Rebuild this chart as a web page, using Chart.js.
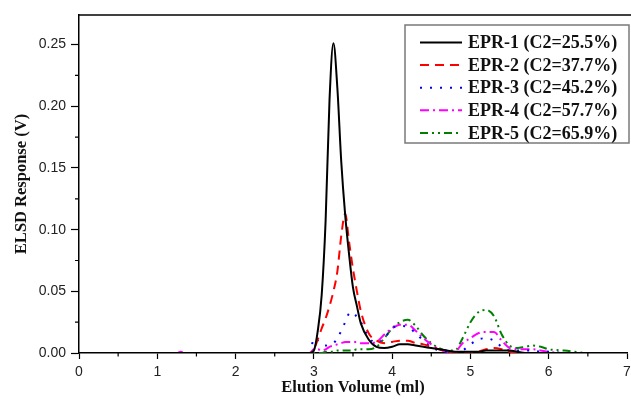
<!DOCTYPE html>
<html lang="en">
<head>
    <meta charset="UTF-8">
    <title>ELSD Response vs Elution Volume</title>
    <script src="https://cdn.jsdelivr.net/npm/chart.js"></script>
    <style>
        body { margin: 0; background: #fff; }
        .wrap { position: relative; width: 631px; height: 409px; }
    </style>
</head>
<body>
    <div class="wrap">
        <canvas id="elsdChart"></canvas>
    </div>

    <script>
        // elution volume (ml), shared by all five traces
        const volume = [0, 1, 1.25, 1.3, 1.35, 2, 2.95, 3.0, 3.05, 3.1, 3.15, 3.2, 3.25, 3.3, 3.35, 3.4, 3.45, 3.5, 3.55, 3.6, 3.7, 3.8, 3.9,
                        4.0, 4.1, 4.2, 4.3, 4.4, 4.5, 4.6, 4.7, 4.8, 4.9, 5.0, 5.1, 5.2, 5.3, 5.4, 5.5, 5.6, 5.7, 5.8, 5.9, 6.0, 6.2, 6.5, 7.0];

        const epr1 = [0, 0, 0, 0, 0, 0, 0, 0.002, 0.018, 0.047, 0.107, 0.205, 0.251, 0.215, 0.155, 0.112, 0.080, 0.053, 0.038, 0.024, 0.011, 0.005, 0.004,
                      0.005, 0.007, 0.007, 0.006, 0.005, 0.004, 0.003, 0.002, 0.001, 0.001, 0.001, 0.001, 0.002, 0.002, 0.002, 0.002, 0.001, 0, 0, 0, 0, 0, 0, 0];
        const epr2 = [0, 0, 0, 0, 0, 0, 0, 0.003, 0.011, 0.020, 0.028, 0.038, 0.050, 0.066, 0.095, 0.113, 0.090, 0.068, 0.050, 0.034, 0.016, 0.010, 0.008,
                      0.009, 0.010, 0.010, 0.008, 0.007, 0.005, 0.003, 0.001, 0, 0, 0, 0.001, 0.003, 0.004, 0.003, 0.001, 0, 0, 0, 0, 0, 0, 0, 0];
        const epr3 = [0, 0, 0, 0, 0, 0, 0, 0.012, 0.010, 0.007, 0.006, 0.007, 0.008, 0.012, 0.018, 0.025, 0.032, 0.033, 0.029, 0.025, 0.013, 0.008, 0.012,
                      0.020, 0.022, 0.021, 0.016, 0.010, 0.005, 0.002, 0.001, 0, 0.002, 0.007, 0.011, 0.012, 0.010, 0.005, 0.002, 0.002, 0.002, 0.002, 0.001, 0.001, 0, 0, 0];
        const epr4 = [0, 0, 0, 0.001, 0, 0, 0, 0.003, 0.003, 0.002, 0.003, 0.005, 0.006, 0.007, 0.008, 0.009, 0.009, 0.009, 0.009, 0.008, 0.008, 0.009, 0.015,
                      0.020, 0.023, 0.023, 0.018, 0.012, 0.007, 0.003, 0.001, 0.001, 0.008, 0.012, 0.016, 0.017, 0.017, 0.010, 0.004, 0.003, 0.003, 0.003, 0.002, 0.001, 0, 0, 0];
        const epr5 = [0, 0, 0, 0, 0, 0, 0, 0, 0, 0, 0.001, 0.001, 0.001, 0.002, 0.002, 0.002, 0.002, 0.002, 0.003, 0.003, 0.003, 0.005, 0.012,
                      0.020, 0.025, 0.027, 0.022, 0.014, 0.008, 0.004, 0.002, 0.002, 0.012, 0.025, 0.033, 0.035, 0.030, 0.015, 0.006, 0.004, 0.005, 0.006, 0.005, 0.003, 0.002, 0, 0];

        const seriesLabels = ['EPR-1 (C2=25.5%)', 'EPR-2 (C2=37.7%)', 'EPR-3 (C2=45.2%)', 'EPR-4 (C2=57.7%)', 'EPR-5 (C2=65.9%)'];
        const seriesValues = [epr1, epr2, epr3, epr4, epr5];
        const seriesColors = ['#000000', '#ff0000', '#0000ff', '#ff00ff', '#008000'];
        const seriesDash = [[], [9, 6], [2, 8], [9, 4, 2, 4], [8, 4, 2, 4, 2, 4]];

        const xTicks = [0, 1, 2, 3, 4, 5, 6, 7];
        const yTicks = [0, 0.05, 0.10, 0.15, 0.20, 0.25];

        const datasets = seriesLabels.map((label, i) => ({
            label: label,
            data: volume.map((v, j) => ({ x: v, y: seriesValues[i][j] })),
            borderColor: seriesColors[i],
            borderDash: seriesDash[i],
            borderWidth: 2,
            pointRadius: 0,
            fill: false,
            cubicInterpolationMode: 'monotone'
        }));

        // frame top line, minor ticks and the boxed legend
        const decorations = {
            id: 'decorations',
            afterDraw(chart) {
                const ctx = chart.ctx;
                const area = chart.chartArea;
                const xs = chart.scales.x;
                const ys = chart.scales.y;
                ctx.save();
                ctx.strokeStyle = '#000';
                ctx.lineWidth = 1.5;
                ctx.beginPath();
                ctx.moveTo(area.left, area.top);
                ctx.lineTo(chart.width, area.top);
                ctx.stroke();

                ctx.lineWidth = 1.2;
                ctx.beginPath();
                for (let i = 0; i < xTicks.length - 1; i++) {
                    const px = xs.getPixelForValue(xTicks[i] + 0.5);
                    ctx.moveTo(px, area.bottom);
                    ctx.lineTo(px, area.bottom + 3.5);
                }
                for (let i = 0; i < yTicks.length; i++) {
                    const v = yTicks[i] + 0.025;
                    if (v > ys.max) continue;
                    const py = ys.getPixelForValue(v);
                    ctx.moveTo(area.left, py);
                    ctx.lineTo(area.left - 4, py);
                }
                ctx.stroke();

                // legend
                const bx = 405, by = 25, bw = 224, bh = 118;
                ctx.fillStyle = '#fff';
                ctx.fillRect(bx, by, bw, bh);
                ctx.strokeStyle = '#7a7a7a';
                ctx.lineWidth = 1.5;
                ctx.strokeRect(bx, by, bw, bh);
                ctx.font = 'bold 18px "Liberation Serif", "Times New Roman", serif';
                ctx.textBaseline = 'middle';
                chart.data.datasets.forEach((ds, i) => {
                    const y = 42.5 + i * 22.6;
                    ctx.strokeStyle = ds.borderColor;
                    ctx.lineWidth = 2;
                    ctx.setLineDash(ds.borderDash);
                    ctx.beginPath();
                    ctx.moveTo(420, y);
                    ctx.lineTo(462, y);
                    ctx.stroke();
                    ctx.setLineDash([]);
                    ctx.fillStyle = '#111';
                    ctx.fillText(ds.label, 468, y + 1);
                });
                ctx.restore();
            }
        };

        const ctx = document.getElementById('elsdChart').getContext('2d');
        const elsdChart = new Chart(ctx, {
            type: 'line',
            data: { datasets: datasets },
            plugins: [decorations],
            options: {
                responsive: true,
                maintainAspectRatio: false,
                animation: false,
                layout: { padding: { top: 15, right: 4, left: 0, bottom: 0 } },
                plugins: {
                    legend: { display: false },
                    tooltip: { enabled: false }
                },
                scales: {
                    x: {
                        type: 'linear',
                        min: 0,
                        max: 7,
                        afterFit: (scale) => {
                            scale.height = 56;
                            scale.paddingLeft = 0;
                            scale.paddingRight = 0;
                        },
                        ticks: {
                            stepSize: 1,
                            padding: 5,
                            color: '#222',
                            font: { family: '"Liberation Sans", Arial, sans-serif', size: 14 }
                        },
                        grid: { drawOnChartArea: false, tickLength: 6, tickColor: '#000', tickWidth: 1.2 },
                        border: { color: '#000', width: 1.5 },
                        title: {
                            display: true,
                            text: 'Elution Volume (ml)',
                            color: '#111',
                            padding: { top: 0, bottom: 11 },
                            font: { family: '"Liberation Serif", "Times New Roman", serif', size: 16.5, weight: 'bold' }
                        }
                    },
                    y: {
                        min: 0,
                        max: 0.274,
                        afterFit: (scale) => { scale.width = 79; },
                        ticks: {
                            stepSize: 0.05,
                            includeBounds: false,
                            padding: 5,
                            color: '#222',
                            callback: (v) => v.toFixed(2),
                            font: { family: '"Liberation Sans", Arial, sans-serif', size: 14 }
                        },
                        grid: { drawOnChartArea: false, tickLength: 8, tickColor: '#000', tickWidth: 1.2 },
                        border: { color: '#000', width: 1.5 },
                        title: {
                            display: true,
                            text: 'ELSD Response (V)',
                            color: '#111',
                            padding: { top: 12, bottom: 0 },
                            font: { family: '"Liberation Serif", "Times New Roman", serif', size: 16.5, weight: 'bold' }
                        }
                    }
                }
            }
        });
    </script>
</body>
</html>
